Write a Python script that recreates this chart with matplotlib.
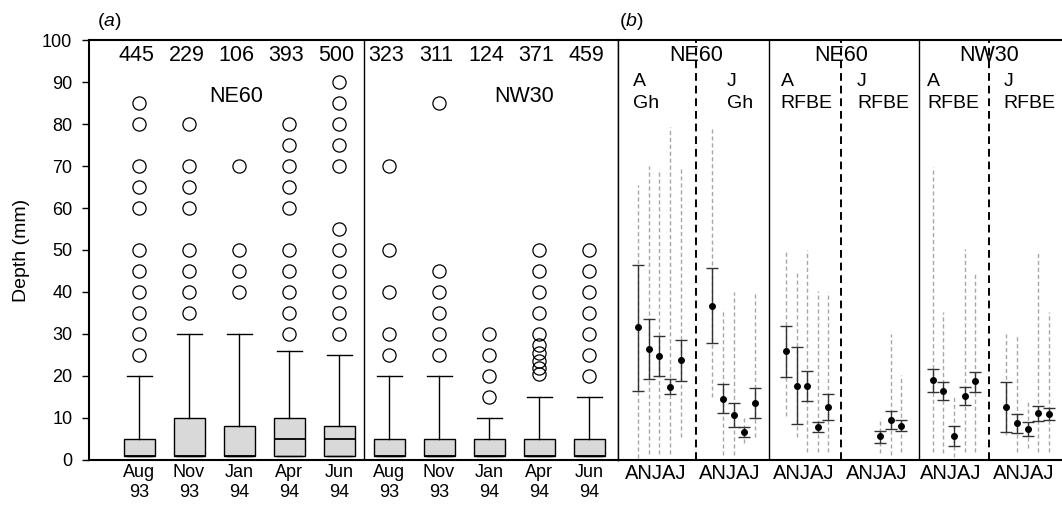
import numpy as np
import matplotlib
matplotlib.use('Agg')
import matplotlib.pyplot as plt

plt.rcParams['font.family'] = ['Liberation Sans', 'DejaVu Sans']
plt.rcParams['mathtext.fontset'] = 'custom'
plt.rcParams['mathtext.rm'] = 'Liberation Sans'
plt.rcParams['mathtext.it'] = 'Liberation Sans:italic'

# ---- panel (a): depth distributions per sampling date ----
months = ['Aug\n93', 'Nov\n93', 'Jan\n94', 'Apr\n94', 'Jun\n94']
sites = ['NE60', 'NW30']

ne60_n = [445, 229, 106, 393, 500]
ne60_q1 = [1, 1, 1, 1, 1]
ne60_med = [1, 1, 1, 5, 5]
ne60_q3 = [5, 10, 8, 10, 8]
ne60_whis = [20, 30, 30, 26, 25]
ne60_fliers = [
    [25, 30, 35, 40, 45, 50, 60, 65, 70, 80, 85],
    [35, 40, 45, 50, 60, 65, 70, 80],
    [40, 45, 50, 70],
    [30, 35, 40, 45, 50, 60, 65, 70, 75, 80],
    [30, 35, 40, 45, 50, 55, 70, 75, 80, 85, 90],
]

nw30_n = [323, 311, 124, 371, 459]
nw30_q1 = [1, 1, 1, 1, 1]
nw30_med = [1, 1, 1, 1, 1]
nw30_q3 = [5, 5, 5, 5, 5]
nw30_whis = [20, 20, 10, 15, 15]
nw30_fliers = [
    [25, 30, 40, 50, 70],
    [25, 30, 35, 40, 45, 85],
    [15, 20, 25, 30],
    [20.5, 22, 23.5, 25.5, 27.5, 30, 35, 40, 45, 50],
    [20, 25, 30, 35, 40, 45, 50],
]

# ---- panel (b): mean, error bar ends, range, per group (A = adult, J = juvenile) ----
nan = np.nan
section_titles = ['NE60', 'NE60', 'NW30']
section_kind = ['Gh', 'RFBE', 'RFBE']

ne60_gh_a_mean = [31.7, 26.4, 24.8, 17.5, 23.8]
ne60_gh_a_lo = [16.4, 19.4, 20.0, 15.6, 18.8]
ne60_gh_a_hi = [46.5, 33.5, 29.5, 19.2, 28.6]
ne60_gh_a_min = [0.5, 1.5, 1.5, 1.5, 5.5]
ne60_gh_a_max = [65.5, 70, 69.4, 79.4, 69.4]

ne60_gh_j_mean = [36.7, 14.5, 10.7, 6.7, 13.6]
ne60_gh_j_lo = [27.8, 11.1, 7.9, 5.5, 9.9]
ne60_gh_j_hi = [45.6, 18.0, 13.6, 7.9, 17.2]
ne60_gh_j_min = [15.1, 1.2, 1.2, 4, 5.5]
ne60_gh_j_max = [79.4, 35.9, 40.1, 10.3, 40.1]

ne60_rf_a_mean = [26, 17.7, 17.7, 7.9, 12.7]
ne60_rf_a_lo = [19.8, 8.6, 14.0, 6.6, 9.5]
ne60_rf_a_hi = [32, 27, 21.3, 9.1, 15.8]
ne60_rf_a_min = [10.5, 5.4, 1.8, 1.8, 1.8]
ne60_rf_a_max = [49.6, 44.7, 50, 40.2, 39.9]

ne60_rf_j_mean = [nan, nan, 5.6, 9.5, 8.2]
ne60_rf_j_lo = [nan, nan, 4.1, 7.5, 6.8]
ne60_rf_j_hi = [nan, nan, 6.9, 11.6, 9.5]
ne60_rf_j_min = [nan, nan, 1.6, 1.2, 2]
ne60_rf_j_max = [nan, nan, 9.9, 29.9, 20.2]

nw30_rf_a_mean = [19, 16.4, 5.8, 15.2, 18.7]
nw30_rf_a_lo = [16.2, 14.2, 3.4, 13.1, 16.3]
nw30_rf_a_hi = [21.6, 18.5, 8.2, 17.3, 21]
nw30_rf_a_min = [2, 1.6, 0.8, 2, 2]
nw30_rf_a_max = [69.8, 35.3, 15.3, 50.2, 44.7]

nw30_rf_j_mean = [12.7, 8.8, 7.4, 11.1, 11]
nw30_rf_j_lo = [6.7, 6.5, 5.7, 9.4, 9.5]
nw30_rf_j_hi = [18.6, 11, 9.1, 12.9, 12.5]
nw30_rf_j_min = [6, 2, 2.8, 2, 2]
nw30_rf_j_max = [29.9, 29.9, 14.4, 49.6, 35.3]

# layout of panel (b) sections (units = spacing between months)
sec_left = [0, 14.25, 28.4]
a_start = [1.9, 1.6, 1.3]
div_x = [7.35, 6.8, 6.65]
j_start = [8.9, 8.5, 8.25]
j_label_x = [10.3, 8.3, 8.0]

fig = plt.figure(figsize=(10.62, 5.05), dpi=100)
ax_a = fig.add_axes([89 / 1062, 45 / 505, 529 / 1062, 420 / 505])
ax_b = fig.add_axes([618 / 1062, 45 / 505, 444 / 1062, 420 / 505])

# panel (a)
stats = []
all_n = ne60_n + nw30_n
groups = [(ne60_q1, ne60_med, ne60_q3, ne60_whis, ne60_fliers),
          (nw30_q1, nw30_med, nw30_q3, nw30_whis, nw30_fliers)]
for q1s, meds, q3s, whs, fls in groups:
    for i in range(5):
        stats.append(dict(q1=q1s[i], med=meds[i], q3=q3s[i], whislo=q1s[i],
                          whishi=whs[i], fliers=fls[i]))
pos = np.arange(1, 11)
ax_a.bxp(stats, positions=pos, widths=0.62, capwidths=0.5, patch_artist=True,
         boxprops=dict(facecolor='#d9d9d9', edgecolor='black', linewidth=1),
         medianprops=dict(color='black', linewidth=1.3),
         whiskerprops=dict(color='black', linewidth=1),
         capprops=dict(color='black', linewidth=1),
         flierprops=dict(marker='o', markerfacecolor='none', markeredgecolor='black',
                         markersize=9.5, markeredgewidth=0.9))
for p, n in zip(pos, all_n):
    ax_a.text(p - 0.05, 96.3, str(n), ha='center', va='center', fontsize=15.5)
ax_a.axvline(5.5, color='black', lw=1)
ax_a.text(2.95, 86.5, sites[0], ha='center', va='center', fontsize=15.5)
ax_a.text(8.7, 86.5, sites[1], ha='center', va='center', fontsize=15.5)

ax_a.set_xlim(0, 10.58)
ax_a.set_ylim(0, 100)
ax_a.set_xticks(pos, months * 2, fontsize=13)
ax_a.tick_params(axis='x', length=0, pad=3)
ax_a.set_yticks(np.arange(0, 101, 10))
ax_a.tick_params(axis='y', labelsize=13, length=5, width=1, pad=7)
ax_a.set_ylabel('Depth (mm)', fontsize=14, labelpad=9)
for s in ax_a.spines.values():
    s.set_linewidth(1.5)
ax_a.spines['right'].set_linewidth(1)

# panel (b)
panels = [
    [(ne60_gh_a_mean, ne60_gh_a_lo, ne60_gh_a_hi, ne60_gh_a_min, ne60_gh_a_max),
     (ne60_gh_j_mean, ne60_gh_j_lo, ne60_gh_j_hi, ne60_gh_j_min, ne60_gh_j_max)],
    [(ne60_rf_a_mean, ne60_rf_a_lo, ne60_rf_a_hi, ne60_rf_a_min, ne60_rf_a_max),
     (ne60_rf_j_mean, ne60_rf_j_lo, ne60_rf_j_hi, ne60_rf_j_min, ne60_rf_j_max)],
    [(nw30_rf_a_mean, nw30_rf_a_lo, nw30_rf_a_hi, nw30_rf_a_min, nw30_rf_a_max),
     (nw30_rf_j_mean, nw30_rf_j_lo, nw30_rf_j_hi, nw30_rf_j_min, nw30_rf_j_max)],
]
tick_pos = []
for k, sec in enumerate(panels):
    x0 = sec_left[k]
    for g, (mean, lo, hi, mn, mx) in enumerate(sec):
        start = a_start[k] if g == 0 else j_start[k]
        x = x0 + start + np.arange(5)
        mean = np.array(mean)
        ax_b.vlines(x, mn, mx, colors='#a8a8a8', linestyles=(0, (3, 2)), lw=1, zorder=1)
        ax_b.errorbar(x, mean, yerr=[mean - np.array(lo), np.array(hi) - mean],
                      fmt='o', color='black', ms=4, ecolor='#333333', elinewidth=1,
                      capsize=4.6, capthick=1, zorder=3)
        tick_pos.append(x[2] - 0.35)
    if k > 0:
        ax_b.axvline(x0, color='black', lw=1)
    ax_b.axvline(x0 + div_x[k], color='black', lw=1.4, linestyle=(0, (4, 2.5)))
    ax_b.text(x0 + div_x[k], 96.3, section_titles[k], ha='center', va='center', fontsize=15.5)
    ax_b.text(x0 + a_start[k] - 0.5, 90.2, 'A', ha='left', va='center', fontsize=14)
    ax_b.text(x0 + a_start[k] - 0.5, 85, section_kind[k], ha='left', va='center', fontsize=14)
    ax_b.text(x0 + j_label_x[k], 90.2, 'J', ha='left', va='center', fontsize=14)
    ax_b.text(x0 + j_label_x[k], 85, section_kind[k], ha='left', va='center', fontsize=14)

ax_b.set_xlim(0, 41.9)
ax_b.set_ylim(0, 100)
ax_b.set_xticks(tick_pos, ['ANJAJ'] * len(tick_pos), fontsize=14.5)
ax_b.tick_params(axis='x', length=0, pad=3)
ax_b.set_yticks([])
ax_b.spines['right'].set_visible(False)
ax_b.spines['left'].set_linewidth(1)
ax_b.spines['top'].set_linewidth(1.5)
ax_b.spines['bottom'].set_linewidth(1.5)

fig.text(97 / 1062, 1 - 21 / 505, r'($\it{a}$)', ha='left', va='center', fontsize=14)
fig.text(619 / 1062, 1 - 21 / 505, r'($\it{b}$)', ha='left', va='center', fontsize=14)

fig.savefig('out.png', dpi=100)
